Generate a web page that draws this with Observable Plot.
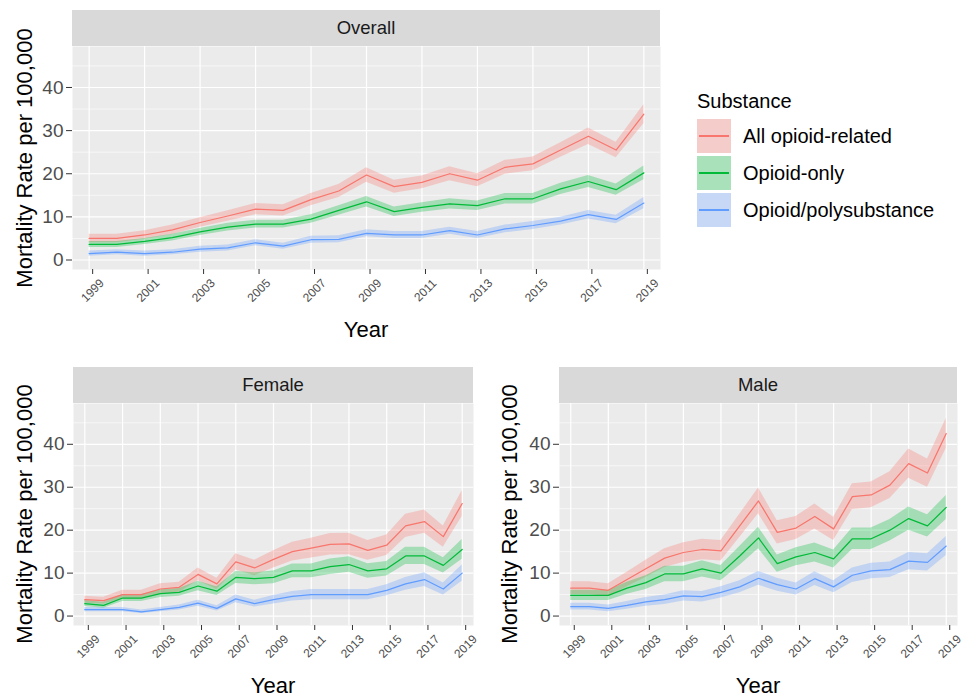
<!DOCTYPE html>
<html><head><meta charset="utf-8">
<script src="https://cdn.jsdelivr.net/npm/d3@7"></script>
<script src="https://cdn.jsdelivr.net/npm/@observablehq/plot@0.6"></script>
<style>
body{margin:0;background:#fff;font-family:"Liberation Sans",Arial,sans-serif;}
#root{position:relative;width:962px;height:697px;overflow:hidden;background:#fff;}
.strip{position:absolute;background:#D9D9D9;color:#1A1A1A;font-size:18.5px;display:flex;align-items:center;justify-content:center;}
.title{position:absolute;font-size:22px;color:#000;white-space:nowrap;line-height:1;transform:translate(-50%,-50%);}
.ytitle{transform:translate(-50%,-50%) rotate(-90deg);}
.svgbox{position:absolute;}
.leg{position:absolute;font-size:20px;color:#000;line-height:1;white-space:nowrap;}
.key{position:absolute;width:34px;height:34px;background:#F2F2F2;}
.key .fill{position:absolute;inset:0;opacity:0.3;}
.key .ln{position:absolute;left:2px;right:2px;top:16.4px;height:1.3px;}
</style></head><body><div id="root"></div>
<script>
const years = [1999,2000,2001,2002,2003,2004,2005,2006,2007,2008,2009,2010,2011,2012,2013,2014,2015,2016,2017,2018,2019];
const xTicks = [1999,2001,2003,2005,2007,2009,2011,2013,2015,2017,2019];
const yTicks = [0,10,20,30,40];
const yMinor = [5,15,25,35,45];
const series = ["All opioid-related","Opioid-only","Opioid/polysubstance"];
const colors = ["#F8766D","#00BA38","#619CFF"];

// Overall
const overallAll  = [5.0,5.0,5.8,7.0,8.7,10.2,11.8,11.5,14.0,16.0,19.7,17.0,18.0,20.0,18.5,21.5,22.3,25.5,28.7,25.5,33.8];
const overallOnly = [3.6,3.6,4.3,5.2,6.5,7.6,8.3,8.3,9.5,11.5,13.5,11.2,12.2,13.0,12.6,14.2,14.2,16.5,18.2,16.3,20.2];
const overallPoly = [1.5,1.8,1.5,1.8,2.5,2.8,4.0,3.2,4.7,4.8,6.2,5.8,5.8,6.8,5.8,7.2,8.0,9.0,10.5,9.4,13.2];
const overallAllHw  = [1.0,1.0,1.0,1.1,1.1,1.2,1.3,1.3,1.4,1.5,1.7,1.5,1.5,1.6,1.5,1.6,1.6,1.7,1.9,1.8,2.2];
const overallOnlyHw = [0.7,0.7,0.7,0.8,0.8,0.9,0.9,0.9,1.0,1.1,1.2,1.1,1.1,1.2,1.1,1.2,1.2,1.3,1.4,1.3,1.6];
const overallPolyHw = [0.6,0.6,0.6,0.6,0.7,0.7,0.7,0.7,0.8,0.8,0.8,0.8,0.8,0.8,0.8,0.9,0.9,0.9,1.0,1.0,1.3];

// Female
const femaleAll  = [3.8,3.6,5.0,5.0,6.3,6.7,9.7,7.5,12.6,11.2,13.2,15.0,15.8,16.7,16.8,15.3,16.5,21.0,22.0,18.5,26.2];
const femaleOnly = [2.9,2.5,4.2,4.2,5.2,5.5,7.0,5.8,9.0,8.7,9.0,10.5,10.5,11.5,12.0,10.5,11.0,14.0,14.0,11.8,15.5];
const femalePoly = [1.5,1.5,1.5,1.0,1.5,2.0,3.0,1.8,4.0,2.9,3.8,4.6,5.0,5.0,5.0,5.0,6.0,7.5,8.5,6.3,10.0];
const femaleAllHw  = [0.8,0.8,1.0,1.0,1.2,1.2,1.5,1.3,1.9,1.8,2.0,2.2,2.3,2.5,2.5,2.3,2.4,2.7,2.7,2.5,3.0];
const femaleOnlyHw = [0.7,0.7,0.8,0.8,0.9,0.9,1.1,1.0,1.4,1.4,1.5,1.6,1.6,1.8,1.8,1.7,1.7,2.0,2.0,1.8,2.3];
const femalePolyHw = [0.5,0.5,0.5,0.4,0.5,0.6,0.7,0.6,0.9,0.8,1.0,1.1,1.2,1.2,1.2,1.2,1.3,1.5,1.6,1.4,1.9];

// Male
const maleAll  = [6.5,6.5,6.0,8.5,11.0,13.5,14.8,15.5,15.2,21.0,26.8,19.5,20.5,23.2,20.3,27.8,28.2,30.5,35.5,33.3,42.5];
const maleOnly = [4.8,4.8,4.8,6.5,7.8,9.8,9.8,11.0,10.0,14.0,18.2,12.2,13.8,14.8,13.3,18.0,18.0,20.0,22.7,21.0,25.3];
const malePoly = [2.2,2.2,1.8,2.5,3.3,3.8,4.7,4.5,5.5,6.8,8.8,7.3,6.3,8.7,6.8,9.5,10.5,10.8,12.8,12.5,16.3];
const maleAllHw  = [1.5,1.5,1.5,1.7,2.0,2.2,2.3,2.4,2.4,2.7,3.0,2.7,2.7,2.9,2.7,3.0,3.0,3.1,3.4,3.3,3.5];
const maleOnlyHw = [1.2,1.2,1.2,1.4,1.6,1.8,1.8,1.9,1.8,2.2,2.5,2.0,2.1,2.2,2.1,2.5,2.5,2.5,2.7,2.6,2.8];
const malePolyHw = [0.8,0.8,0.8,0.9,1.0,1.1,1.2,1.2,1.3,1.4,1.6,1.5,1.4,1.6,1.4,1.7,1.8,1.8,2.0,2.0,2.2];

function rowsFor(vals, hws) {
  const out = [];
  series.forEach((s, i) => {
    years.forEach((y, j) => {
      out.push({year: y, series: s, value: vals[i][j], lo: vals[i][j] - hws[i][j], hi: vals[i][j] + hws[i][j]});
    });
  });
  return out;
}

const root = document.getElementById("root");
const ML = 72, MR = 4, MB = 48;

function panel(rows, px, py, pw, ph) {
  const chart = Plot.plot({
    width: ML + pw + MR, height: ph + MB,
    marginLeft: ML, marginRight: MR, marginTop: 0, marginBottom: MB,
    style: {fontFamily: "Liberation Sans, Arial, sans-serif", background: "transparent", overflow: "visible"},
    x: {domain: [1998.4, 2019.6]},
    y: {domain: [-2.2, 49.5]},
    color: {domain: series, range: colors},
    marks: [
      Plot.frame({fill: "#EBEBEB", stroke: null}),
      Plot.gridY(yMinor, {stroke: "white", strokeOpacity: 1, strokeWidth: 0.6}),
      Plot.gridY(yTicks, {stroke: "white", strokeOpacity: 1, strokeWidth: 1.2}),
      Plot.gridX(xTicks, {stroke: "white", strokeOpacity: 1, strokeWidth: 1.2}),
      Plot.areaY(rows, {x: "year", y1: "lo", y2: "hi", fill: "series", fillOpacity: 0.3}),
      Plot.lineY(rows, {x: "year", y: "value", stroke: "series", strokeWidth: 1.25}),
      Plot.axisY(yTicks, {tickSize: 6, tickPadding: 3, fontSize: 19, fill: "#4D4D4D", stroke: "#333333", label: null}),
      Plot.axisX(xTicks, {tickFormat: d => String(d), tickRotate: -45, textAnchor: "middle", lineAnchor: "middle", tickSize: 5, tickPadding: 16, dx: 3.5, fontSize: 12, fill: "#4D4D4D", stroke: "#333333", label: null})
    ]
  });
  const box = document.createElement("div");
  box.className = "svgbox";
  box.style.left = (px - ML) + "px";
  box.style.top = py + "px";
  box.appendChild(chart);
  root.appendChild(box);
}

function addDiv(cls, text, styles) {
  const d = document.createElement("div");
  d.className = cls;
  d.textContent = text;
  Object.assign(d.style, styles);
  root.appendChild(d);
  return d;
}

const panels = [
  {name: "Overall", rows: rowsFor([overallAll, overallOnly, overallPoly], [overallAllHw, overallOnlyHw, overallPolyHw]), px: 72, py: 46, pw: 588, ph: 223, stripTop: 10, yearY: 330, ytX: 25},
  {name: "Female", rows: rowsFor([femaleAll, femaleOnly, femalePoly], [femaleAllHw, femaleOnlyHw, femalePolyHw]), px: 73, py: 403, pw: 400, ph: 222, stripTop: 367, yearY: 686, ytX: 25},
  {name: "Male", rows: rowsFor([maleAll, maleOnly, malePoly], [maleAllHw, maleOnlyHw, malePolyHw]), px: 559, py: 403, pw: 398, ph: 222, stripTop: 367, yearY: 686, ytX: 510}
];

panels.forEach(p => {
  panel(p.rows, p.px, p.py, p.pw, p.ph);
  addDiv("strip", p.name, {left: p.px + "px", top: p.stripTop + "px", width: p.pw + "px", height: (p.py - p.stripTop) + "px"});
  addDiv("title", "Year", {left: (p.px + p.pw / 2) + "px", top: p.yearY + "px"});
  addDiv("title ytitle", "Mortality Rate per 100,000", {left: p.ytX + "px", top: (p.py + p.ph / 2) + "px"});
});

// Legend
addDiv("leg", "Substance", {left: "697px", top: "91px"});
series.forEach((s, i) => {
  const top = 119 + i * 37;
  const k = document.createElement("div");
  k.className = "key";
  k.style.left = "697px";
  k.style.top = top + "px";
  const f = document.createElement("div"); f.className = "fill"; f.style.background = colors[i];
  const l = document.createElement("div"); l.className = "ln"; l.style.background = colors[i];
  k.appendChild(f); k.appendChild(l);
  root.appendChild(k);
  addDiv("leg", s, {left: "743px", top: (top + 7) + "px"});
});
</script>
</body></html>
